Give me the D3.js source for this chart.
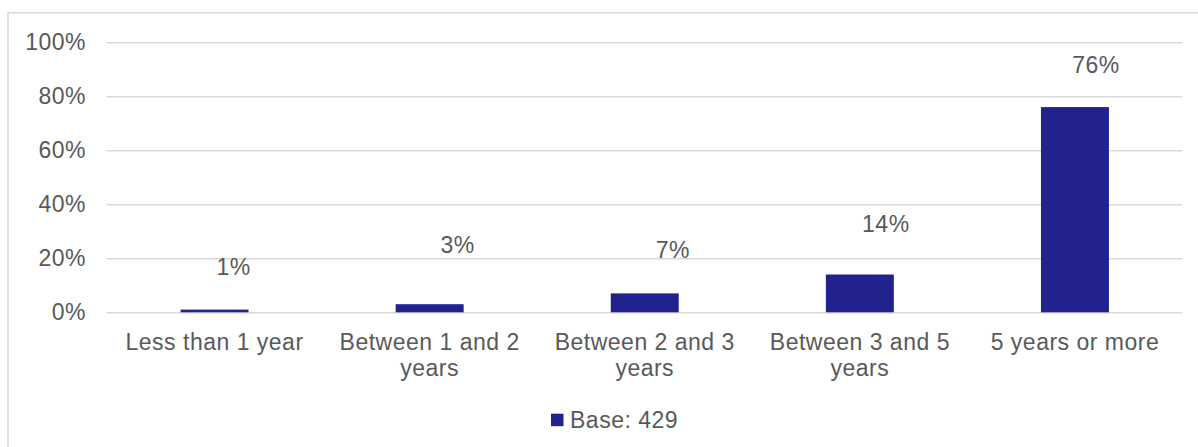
<!DOCTYPE html>
<html>
<head>
<meta charset="utf-8">
<script src="https://cdn.jsdelivr.net/npm/d3@7"></script>
<style>
  html, body { margin: 0; padding: 0; background: #fff; }
  svg { display: block; }
  text { font-family: "Liberation Sans", Arial, sans-serif; fill: #595959; letter-spacing: 0.5px; }
</style>
</head>
<body>
<svg id="chart" width="1198" height="447"></svg>
<script>
// Tenure categories and share of respondents in each
const categories = ["Less than 1 year", "Between 1 and 2 years", "Between 2 and 3 years", "Between 3 and 5 years", "5 years or more"];
const values = [0.01, 0.03, 0.07, 0.14, 0.76];
const valueLabels = ["1%", "3%", "7%", "14%", "76%"];
const yTicks = [0, 0.2, 0.4, 0.6, 0.8, 1.0];
const yTickLabels = ["0%", "20%", "40%", "60%", "80%", "100%"];
const seriesName = "Base: 429";

const W = 1198, H = 447;
const plot = { left: 107, right: 1182.5, top: 42.3, bottom: 312.3 };
const barColor = "#22228f";
const gridColor = "#d9d9d9";
const fontSize = 23;

// hand-placed data label nudges (dx from band centre, dy from bar top to text centre)
const labelNudge = [[19, -43], [28, -59.5], [28, -43.5], [26, -51], [21, -42]];

const svg = d3.select("#chart");

// chart frame
svg.append("rect")
  .attr("x", 8).attr("y", 12.75)
  .attr("width", W + 10).attr("height", H + 10)
  .attr("fill", "#fff").attr("stroke", gridColor).attr("stroke-width", 1.5);

const x = d3.scaleBand().domain(categories).range([plot.left, plot.right]).padding(0);
const y = d3.scaleLinear().domain([0, 1]).range([plot.bottom, plot.top]);
const barW = x.bandwidth() * 0.316;

// gridlines + y labels
const yAxis = d3.axisLeft(y).tickValues(yTicks)
  .tickSize(-(plot.right - plot.left))
  .tickPadding(21)
  .tickFormat((d, i) => yTickLabels[i]);
const gy = svg.append("g").attr("transform", `translate(${plot.left},0)`).call(yAxis);
gy.select(".domain").remove();
gy.selectAll(".tick line").attr("stroke", gridColor).attr("stroke-width", 1.4);
gy.selectAll(".tick text").attr("font-size", fontSize).attr("fill", "#595959")
  .style("font-family", '"Liberation Sans", Arial, sans-serif');

// bars
svg.append("g").selectAll("rect").data(values).join("rect")
  .attr("x", (d, i) => x(categories[i]) + x.bandwidth() / 2 - barW / 2)
  .attr("width", barW)
  .attr("y", d => y(d))
  .attr("height", d => y(0) - y(d))
  .attr("fill", barColor);

// value labels
svg.append("g").selectAll("text").data(values).join("text")
  .attr("x", (d, i) => x(categories[i]) + x.bandwidth() / 2 + labelNudge[i][0])
  .attr("y", (d, i) => y(d) + labelNudge[i][1])
  .attr("dy", "0.35em")
  .attr("text-anchor", "middle")
  .attr("font-size", fontSize)
  .text((d, i) => valueLabels[i]);

// category labels, wrapped to fit the band
const xAxis = d3.axisBottom(x).tickSize(0).tickPadding(0);
const gx = svg.append("g").attr("transform", `translate(0,${plot.bottom})`).call(xAxis);
gx.select(".domain").remove();
gx.selectAll(".tick text").remove();
gx.selectAll(".tick").each(function (cat) {
  const t = d3.select(this).append("text")
    .attr("text-anchor", "middle")
    .attr("font-size", fontSize)
    .attr("y", 38);
  const words = cat.split(" ");
  let lines = [], line = [];
  const probe = t.append("tspan");
  words.forEach(w => {
    const trial = line.concat(w).join(" ");
    probe.text(trial);
    if (probe.node().getComputedTextLength() > 200 && line.length) {
      lines.push(line.join(" "));
      line = [w];
    } else line.push(w);
  });
  lines.push(line.join(" "));
  probe.remove();
  lines.forEach((l, k) => {
    t.append("tspan").attr("x", 0).attr("dy", k === 0 ? 0 : 26).text(l);
  });
});

// legend
const lg = svg.append("g").attr("transform", "translate(551,420)");
lg.append("rect").attr("x", 0).attr("y", -6.3).attr("width", 12.5).attr("height", 12.5).attr("fill", barColor);
lg.append("text").attr("x", 19).attr("dy", "0.35em").attr("font-size", fontSize).text(seriesName);
</script>
</body>
</html>
